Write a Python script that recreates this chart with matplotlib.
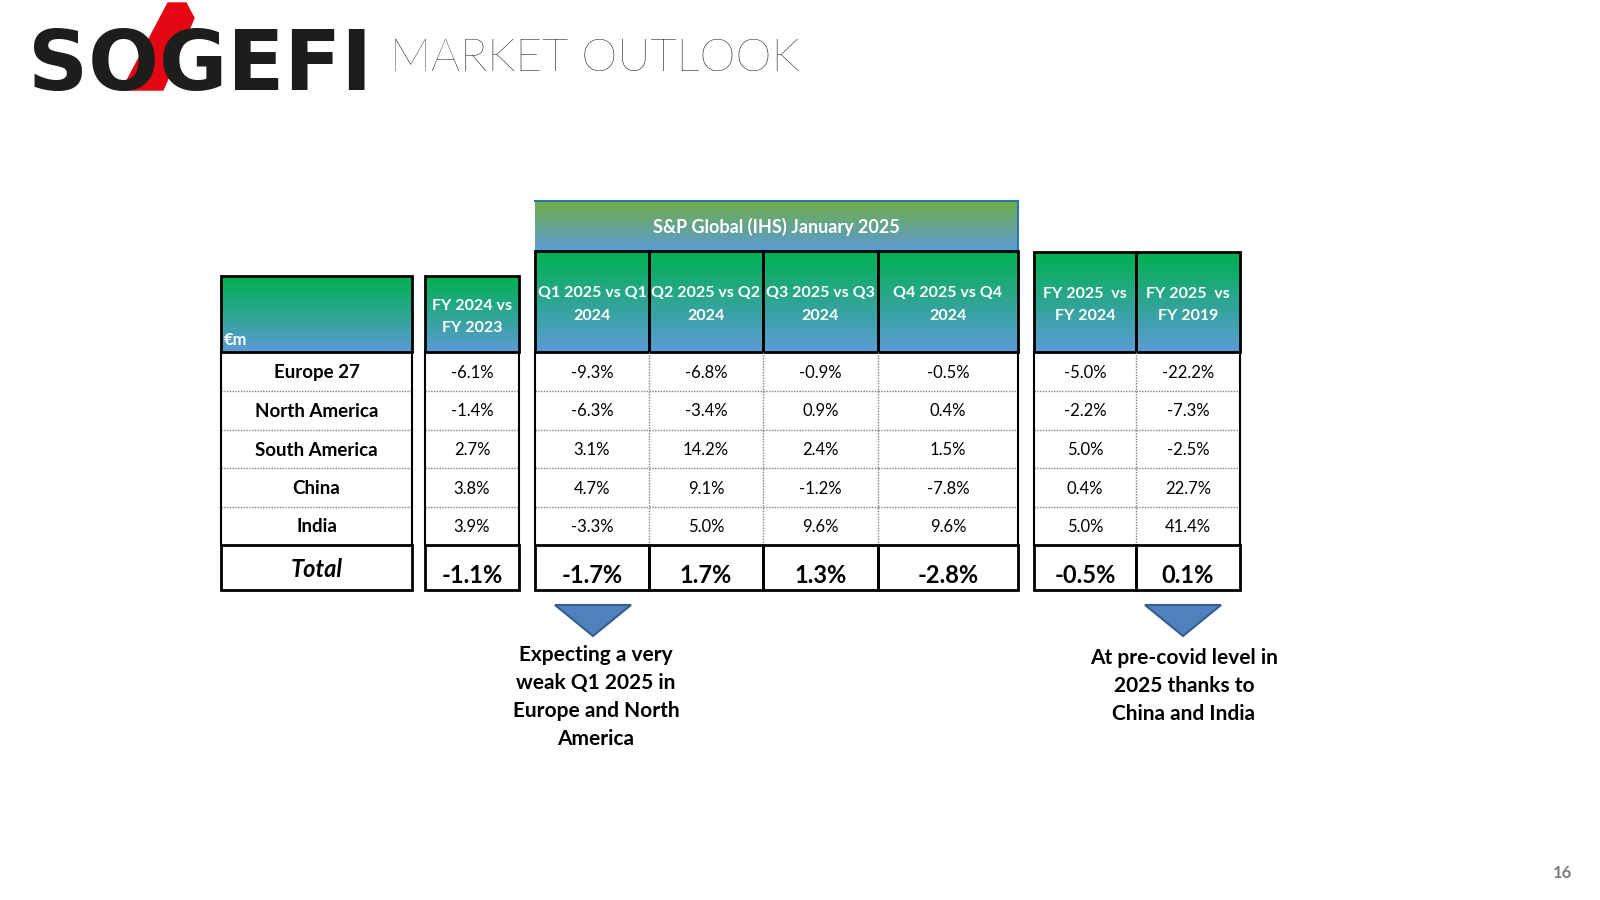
import matplotlib.pyplot as plt
from matplotlib.patches import Rectangle, Polygon
import numpy as np

regions = ['Europe 27', 'North America', 'South America', 'China', 'India']
col_labels = ['FY 2024 vs\nFY 2023',
              'Q1 2025 vs Q1\n2024', 'Q2 2025 vs Q2\n2024', 'Q3 2025 vs Q3\n2024', 'Q4 2025 vs Q4\n2024',
              'FY 2025  vs\nFY 2024', 'FY 2025  vs\nFY 2019']
values = [
    ['-6.1%', '-9.3%', '-6.8%', '-0.9%', '-0.5%', '-5.0%', '-22.2%'],
    ['-1.4%', '-6.3%', '-3.4%', '0.9%', '0.4%', '-2.2%', '-7.3%'],
    ['2.7%', '3.1%', '14.2%', '2.4%', '1.5%', '5.0%', '-2.5%'],
    ['3.8%', '4.7%', '9.1%', '-1.2%', '-7.8%', '0.4%', '22.7%'],
    ['3.9%', '-3.3%', '5.0%', '9.6%', '9.6%', '5.0%', '41.4%'],
]
totals = ['-1.1%', '-1.7%', '1.7%', '1.3%', '-2.8%', '-0.5%', '0.1%']
group_title = 'S&P Global (IHS) January 2025'
note_left = 'Expecting a very\nweak Q1 2025 in\nEurope and North\nAmerica'
note_right = 'At pre-covid level in\n2025 thanks to\nChina and India'

FONT = 'Lato'
plt.rcParams['font.family'] = [FONT, 'DejaVu Sans']

fig = plt.figure(figsize=(16, 9), dpi=100)
ax = fig.add_axes([0, 0, 1, 1])
ax.set_xlim(0, 1600)
ax.set_ylim(900, 0)
ax.axis('off')

GREEN = np.array([0, 176, 80]) / 255
OLIVE = np.array([112, 173, 71]) / 255
BLUE = np.array([91, 155, 213]) / 255


def gradient(x0, x1, y0, y1, top, bottom):
    t = np.linspace(0, 1, 64)[:, None, None]
    img = top * (1 - t) + bottom * t
    img = np.repeat(img, 2, axis=1)
    ax.imshow(img, extent=(x0, x1, y1, y0), aspect='auto', zorder=1, interpolation='bilinear')


# logo + title
ax.add_patch(Polygon([(168, 3), (186, 3), (194, 18), (163, 90), (122, 90)],
                     closed=True, color='#E30613', zorder=1))
ax.text(28, 90, 'SOGEFI', fontsize=60, fontweight='bold', color='#1d1d1b',
        family='DejaVu Sans', va='baseline', ha='left', zorder=2)
ax.text(390, 71, 'MARKET OUTLOOK', fontsize=33, fontweight='light', color='black',
        va='baseline', ha='left')
ax.text(1562, 878, '16', fontsize=12, color='#7f7f7f', fontweight='bold', ha='center', va='baseline')

# column edges
label_x = (221, 412)
col_x = [(425, 519), (535, 649), (649, 763), (763, 878), (878, 1018), (1034, 1136), (1136, 1240)]
row_y = [352, 391, 430, 468, 507, 545]
total_y = (545, 590)
head_top = [276, 251, 251, 251, 251, 252, 252]

# header cells
gradient(label_x[0], label_x[1], 276, 352, GREEN, BLUE)
ax.add_patch(Rectangle((label_x[0], 276), label_x[1] - label_x[0], 76, fill=False, ec='black', lw=2, zorder=3))
ax.text(label_x[0] + 3, 348, '€m', color='white', fontsize=12, fontweight='bold', va='bottom', ha='left', zorder=4)

gradient(535, 1018, 201, 251, OLIVE, BLUE)
ax.plot([535, 1018], [201, 201], color='#2E75B6', lw=1.5, zorder=3)
ax.plot([1018, 1018], [201, 251], color='#2E75B6', lw=1.5, zorder=3)
ax.text((535 + 1018) / 2, 227, group_title, color='white', fontsize=13, fontweight='bold',
        ha='center', va='center', zorder=4)

for (x0, x1), top, lab in zip(col_x, head_top, col_labels):
    gradient(x0, x1, top, 352, GREEN, BLUE)
    ax.add_patch(Rectangle((x0, top), x1 - x0, 352 - top, fill=False, ec='black', lw=2, zorder=3))
    ax.text((x0 + x1) / 2, (top + 352) / 2 + 3, lab, color='white', fontsize=11.5, fontweight='bold',
            ha='center', va='center', linespacing=1.75, zorder=4)

# body rows
for i, reg in enumerate(regions):
    y0, y1 = row_y[i], row_y[i + 1]
    yc = (y0 + y1) / 2 + 1
    ax.text(sum(label_x) / 2, yc, reg, fontsize=13.5, fontweight='bold', ha='center', va='center')
    for (x0, x1), v in zip(col_x, values[i]):
        ax.text((x0 + x1) / 2, yc, v, fontsize=12, ha='center', va='center')
    if i > 0:
        for x0, x1 in [label_x] + col_x:
            ax.plot([x0, x1], [y0, y0], color='#808080', lw=1, ls=(0, (1, 1)), zorder=2)

# vertical borders for body
groups = [[label_x], [col_x[0]], col_x[1:5], col_x[5:]]
for g in groups:
    xs = [g[0][0]] + [c[1] for c in g]
    for j, x in enumerate(xs):
        outer = j == 0 or j == len(xs) - 1
        ax.plot([x, x], [352, 545], color='black' if outer else '#808080',
                lw=1.5 if outer else 1, ls='-' if outer else (0, (1, 1)), zorder=3)

# total row
ax.add_patch(Rectangle((label_x[0], total_y[0]), label_x[1] - label_x[0], total_y[1] - total_y[0],
                       fill=False, ec='black', lw=2, zorder=3))
ax.text(sum(label_x) / 2, 577, 'Total', fontsize=17, fontweight='bold', style='italic',
        ha='center', va='baseline')
for (x0, x1), v in zip(col_x, totals):
    ax.add_patch(Rectangle((x0, total_y[0]), x1 - x0, total_y[1] - total_y[0],
                           fill=False, ec='black', lw=2, zorder=3))
    ax.text((x0 + x1) / 2, 583, v, fontsize=17, fontweight='bold', ha='center', va='baseline')

# arrows and notes
for cx in [593, 1183]:
    ax.add_patch(Polygon([(cx - 38, 605), (cx + 38, 605), (cx, 636)], closed=True,
                         fc='#4F81BD', ec='#385D8A', lw=1.5, zorder=3))
ax.text(596, 697, note_left, fontsize=15, fontweight='bold', ha='center', va='center', linespacing=1.5)
ax.text(1184, 686, note_right, fontsize=15, fontweight='bold', ha='center', va='center', linespacing=1.5)

fig.savefig('out.png', dpi=100)
